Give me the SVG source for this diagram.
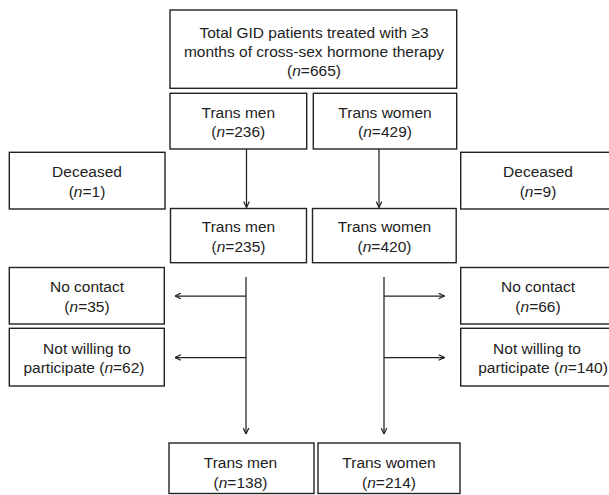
<svg xmlns="http://www.w3.org/2000/svg" width="609" height="495" viewBox="0 0 609 495">
<style>
.box{fill:#fff;stroke:#222;stroke-width:1.4}
.t{font-family:"Liberation Sans",Arial,sans-serif;font-size:15.5px;fill:#222;text-anchor:middle}
.i{font-style:italic}
.c{fill:none;stroke:#222;stroke-width:1.25}
</style>
<defs>
<marker id="ah" markerUnits="userSpaceOnUse" viewBox="0 0 10 10" refX="9.5" refY="5" markerWidth="7" markerHeight="7" orient="auto">
<path d="M1,1 L9.5,5 L1,9" fill="none" stroke="#222" stroke-width="1.7"/>
</marker>
</defs>
<rect width="609" height="495" fill="#fff"/>
<g id="connectors">
<line class="c" x1="246.5" y1="149" x2="246.5" y2="207.5" marker-end="url(#ah)"/>
<line class="c" x1="379" y1="149" x2="379" y2="207.5" marker-end="url(#ah)"/>
<line class="c" x1="246" y1="277" x2="246" y2="434" marker-end="url(#ah)"/>
<line class="c" x1="384" y1="277" x2="384" y2="434" marker-end="url(#ah)"/>
<line class="c" x1="246" y1="296" x2="175" y2="296" marker-end="url(#ah)"/>
<line class="c" x1="246" y1="357.5" x2="175" y2="357.5" marker-end="url(#ah)"/>
<line class="c" x1="384" y1="296" x2="444.5" y2="296" marker-end="url(#ah)"/>
<line class="c" x1="384" y1="357.5" x2="444.5" y2="357.5" marker-end="url(#ah)"/>
</g>
<g id="total">
<rect class="box" x="170" y="10" width="286.7" height="78.3"/>
<text class="t" x="314" y="37.5">Total GID patients treated with ≥3</text>
<text class="t" x="314" y="56.5">months of cross-sex hormone therapy</text>
<text class="t" x="314" y="75.5">(<tspan class="i">n</tspan>=665)</text>
</g>
<g id="men1">
<rect class="box" x="170" y="93.3" width="136.7" height="55.7"/>
<text class="t" x="238.3" y="117.7">Trans men</text>
<text class="t" x="238.3" y="137">(<tspan class="i">n</tspan>=236)</text>
</g>
<g id="women1">
<rect class="box" x="313.3" y="93.3" width="143.4" height="55.7"/>
<text class="t" x="385" y="117.7">Trans women</text>
<text class="t" x="385" y="137">(<tspan class="i">n</tspan>=429)</text>
</g>
<g id="deceasedL">
<rect class="box" x="9.3" y="152.3" width="155.7" height="56.7"/>
<text class="t" x="87" y="177.3">Deceased</text>
<text class="t" x="87" y="196.7">(<tspan class="i">n</tspan>=1)</text>
</g>
<g id="deceasedR">
<rect class="box" x="460.7" y="152.3" width="156" height="56.7"/>
<text class="t" x="538" y="177.3">Deceased</text>
<text class="t" x="538" y="196.7">(<tspan class="i">n</tspan>=9)</text>
</g>
<g id="men2">
<rect class="box" x="170.5" y="208.5" width="136" height="54.2"/>
<text class="t" x="238.5" y="232">Trans men</text>
<text class="t" x="238.5" y="251.5">(<tspan class="i">n</tspan>=235)</text>
</g>
<g id="women2">
<rect class="box" x="312.5" y="208.5" width="143.7" height="54.2"/>
<text class="t" x="384.5" y="232">Trans women</text>
<text class="t" x="384.5" y="251.5">(<tspan class="i">n</tspan>=420)</text>
</g>
<g id="nocontactL">
<rect class="box" x="9.3" y="267.5" width="155" height="56.5"/>
<text class="t" x="87" y="292.3">No contact</text>
<text class="t" x="87" y="311.7">(<tspan class="i">n</tspan>=35)</text>
</g>
<g id="nocontactR">
<rect class="box" x="460.7" y="267.5" width="156" height="56.5"/>
<text class="t" x="538" y="292.3">No contact</text>
<text class="t" x="538" y="311.7">(<tspan class="i">n</tspan>=66)</text>
</g>
<g id="notwillingL">
<rect class="box" x="9.3" y="328.3" width="155" height="57.7"/>
<text class="t" x="87" y="353.6">Not willing to</text>
<text class="t" x="84" y="373">participate (<tspan class="i">n</tspan>=62)</text>
</g>
<g id="notwillingR">
<rect class="box" x="460.7" y="328.3" width="156" height="57.7"/>
<text class="t" x="537" y="353.6">Not willing to</text>
<text class="t" x="543" y="373">participate (<tspan class="i">n</tspan>=140)</text>
</g>
<g id="men3">
<rect class="box" x="169" y="443" width="145" height="50.5"/>
<text class="t" x="240.5" y="468">Trans men</text>
<text class="t" x="240.5" y="487.5">(<tspan class="i">n</tspan>=138)</text>
</g>
<g id="women3">
<rect class="box" x="318" y="443" width="142" height="50.5"/>
<text class="t" x="389" y="468">Trans women</text>
<text class="t" x="389" y="487.5">(<tspan class="i">n</tspan>=214)</text>
</g>
</svg>
